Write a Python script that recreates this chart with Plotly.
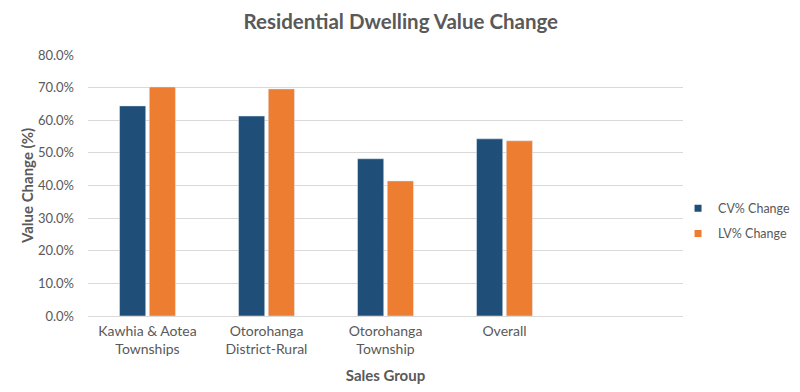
import plotly.graph_objects as go

categories = ["Kawhia & Aotea<br>Townships", "Otorohanga<br>District-Rural", "Otorohanga<br>Township", "Overall"]
series_names = ["CV% Change", "LV% Change"]
cv_change = [64.4, 61.3, 48.2, 54.3]
lv_change = [70.2, 69.6, 41.4, 53.7]
y_ticks = [0, 10, 20, 30, 40, 50, 60, 70, 80]
y_tick_labels = [f"{v:.1f}%" for v in y_ticks]

font_family = "Lato, Open Sans, sans-serif"
grey = "#595959"
colors = ["#1F4E79", "#ED7D31"]

fig = go.Figure()
for name, vals, col in zip(series_names, [cv_change, lv_change], colors):
    fig.add_trace(go.Bar(name=name, x=categories, y=vals, marker_color=col, showlegend=False))
    # legend proxy with small square symbol
    fig.add_trace(go.Scatter(name=name, x=[None], y=[None], mode="markers",
                             marker=dict(symbol="square", size=7, color=col),
                             legendgroup=name, showlegend=True))

fig.update_layout(
    width=792, height=384,
    paper_bgcolor="white", plot_bgcolor="white",
    margin=dict(l=80, r=117, t=47, b=76, autoexpand=False),
    barmode="group", bargap=0.5, bargroupgap=0.12,
    title=dict(text="<b>Residential Dwelling Value Change</b>", x=0.496, xanchor="center",
               y=0.9635, yanchor="middle", font=dict(family=font_family, size=20.5, color=grey)),
    font=dict(family=font_family, size=13, color=grey),
    legend=dict(xref="container", yref="container", x=0.846, xanchor="left", y=0.445, yanchor="middle",
                font=dict(family=font_family, size=12.5, color=grey),
                itemwidth=30, tracegroupgap=6, bgcolor="rgba(0,0,0,0)"),
    showlegend=True,
)
fig.update_xaxes(
    range=[-0.5, 4.5], showgrid=False, showline=True, linecolor="#D9D9D9", linewidth=1,
    ticks="", tickfont=dict(size=14, color=grey), ticklabelstandoff=2,
    title=dict(text="<b>Sales Group</b>", font=dict(size=15, color=grey), standoff=14),
)
fig.update_yaxes(
    range=[0, 80], tickvals=y_ticks, ticktext=y_tick_labels,
    showgrid=True, gridcolor="#D9D9D9", gridwidth=1, zeroline=False,
    ticks="", tickfont=dict(size=13, color=grey), ticklabelstandoff=13,
    title=dict(text="<b>Value Change (%)</b>", font=dict(size=15, color=grey), standoff=0),
)
fig.write_html("out.html")
